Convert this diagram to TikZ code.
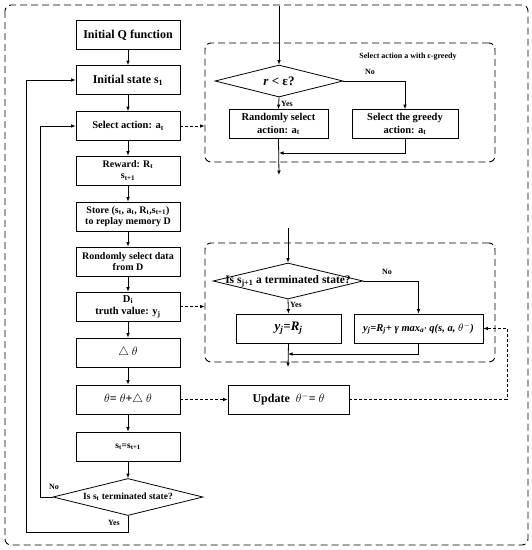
\documentclass[tikz,border=0pt]{standalone}
\usepackage{fontspec}
\setmainfont{Liberation Serif}
\usetikzlibrary{calc, arrows.meta, positioning, shapes.geometric}

\begin{document}
\begin{tikzpicture}[x=1pt,y=-1pt,
    >={Latex[length=4.5pt,width=3.6pt]},
    box/.style={draw,line width=0.8pt,minimum width=104pt,minimum height=29pt,inner sep=1pt,align=center,font=\bfseries\fontsize{10}{11.5}\selectfont},
    bigtext/.style={font=\bfseries\fontsize{12}{14}\selectfont},
    decision/.style={draw,diamond,line width=0.8pt,inner sep=0pt,aspect=4,font=\bfseries\fontsize{9.5}{11}\selectfont},
    group/.style={draw,line width=0.9pt,dash pattern=on 7pt off 4pt,rounded corners=6pt},
    line/.style={line width=0.8pt},
    dline/.style={line width=0.8pt,dash pattern=on 3pt off 2pt},
    lbl/.style={inner sep=1pt,font=\bfseries\fontsize{8}{9.5}\selectfont}]
    \useasboundingbox (0,0) rectangle (532,550);

    % outer frame
    \draw[group] (5,5) rectangle (528,545);

    % main loop
    \node[box,bigtext] (qinit) at (128,35) {Initial Q function};
    \node[box,bigtext] (sinit) at (128,80) {Initial state s\textsubscript{1}};
    \node[box,font=\bfseries\fontsize{10.5}{12}\selectfont] (selact) at (128,126) {Select action: a\textsubscript{t}};
    \node[box] (reward) at (128,170.5) {Reward: R\textsubscript{t}\\ s\textsubscript{t+1}};
    \node[box] (store) at (128,216.5) {Store (s\textsubscript{t}, a\textsubscript{t}, R\textsubscript{t},s\textsubscript{t+1})\\ to replay memory D};
    \node[box] (sample) at (128,261.5) {Rondomly select data\\ from D};
    \node[box,font=\bfseries\fontsize{10.5}{12.5}\selectfont] (target) at (128,306.5) {D\textsubscript{i}\\ truth value: y\textsubscript{j}};
    \node[box,bigtext] (dtheta) at (128,352.5) {$\triangle\ \theta$};
    \node[box,bigtext] (upd) at (128,399.5) {$\theta$= $\theta$+$\triangle\ \theta$};
    \node[box,font=\bfseries\fontsize{9.5}{11}\selectfont] (snext) at (128,446.5) {s\textsubscript{t}=s\textsubscript{t+1}};
    \node[decision,minimum width=150pt,minimum height=37pt] (term) at (128,497) {\makebox[0pt]{Is s\textsubscript{t} terminated state?}};

    \draw[line,->] (qinit) -- (sinit);
    \draw[line,->] (sinit) -- (selact);
    \draw[line,->] (selact) -- (reward);
    \draw[line,->] (reward) -- (store);
    \draw[line,->] (store) -- (sample);
    \draw[line,->] (sample) -- (target);
    \draw[line,->] (target) -- (dtheta);
    \draw[line,->] (dtheta) -- (upd);
    \draw[line,->] (upd) -- (snext);
    \draw[line,->] (snext) -- (term);

    \coordinate (nobend) at (40,497);
    \coordinate (yesbend) at (26,532);
    \draw[line,->] (term.west) -- (nobend) |- (selact.west);
    \draw[line,->] (term.south) |- (yesbend) |- (sinit.west);
    \node[lbl] (termno) at (54,487) {No};
    \node[lbl] (termyes) at (114,523) {Yes};

    % epsilon-greedy choice
    \node[group,minimum width=290pt,minimum height=119pt] (epsbox) at (350,102.5) {};
    \node[lbl] (epstitle) at (408,57) {Select action a with ε-greedy};
    \node[decision,minimum width=128pt,minimum height=32pt] (eps) at (279,81) {\makebox[0pt]{\fontsize{13}{15}\selectfont\textit{r} < ε?}};
    \node[box,minimum width=99pt,font=\bfseries\fontsize{10.5}{12.5}\selectfont] (randact) at (278.5,124) {Randomly select\\ action: a\textsubscript{t}};
    \node[box,minimum width=106pt,font=\bfseries\fontsize{10.5}{12.5}\selectfont] (greedact) at (405,124) {Select the greedy\\ action: a\textsubscript{t}};
    \coordinate (epsin) at (279,6);
    \coordinate (epsmerge) at (279,153);
    \coordinate (epsout) at (279,175);

    \draw[line,->] (epsin) -- (eps.north);
    \draw[line,->] (eps.south) -- (randact.north);
    \draw[line,->] (eps.east) -| (greedact.north);
    \draw[line,->] (randact.south) -- (epsout);
    \draw[line,->] (greedact.south) |- (epsmerge);
    \node[lbl] (epsno) at (370,72) {No};
    \node[lbl,anchor=west] (epsyes) at (280,104) {Yes};
    \draw[dline,->] (selact.east) -- (selact.east -| epsbox.west);

    % target value
    \node[group,minimum width=290pt,minimum height=119pt] (tgtbox) at (350,302.5) {};
    \node[decision,minimum width=150pt,minimum height=36pt] (jterm) at (288,281) {\makebox[0pt]{\fontsize{11.5}{13.5}\selectfont Is s\textsubscript{j+1} a terminated state?}};
    \node[box,minimum width=105pt,font=\bfseries\itshape\fontsize{13}{15}\selectfont] (yterm) at (288.5,328.5) {y\textsubscript{j}=R\textsubscript{j}};
    \node[box,minimum width=129pt,font=\bfseries\itshape\fontsize{10.5}{12}\selectfont] (ynon) at (418.5,328.5) {y\textsubscript{j}=R\textsubscript{j}+ γ max\textsubscript{a'} q(s, a, $\theta^{-}$)};
    \coordinate (jin) at (288,228);
    \coordinate (jmerge) at (288,354);
    \coordinate (jout) at (288,367);

    \draw[line,->] (jin) -- (jterm.north);
    \draw[line,->] (jterm.south) -- (yterm.north);
    \draw[line,->] (jterm.east) -| (ynon.north);
    \draw[line,->] (yterm.south) -- (jout);
    \draw[line,->] (ynon.south) |- (jmerge);
    \node[lbl] (jno) at (387,272) {No};
    \node[lbl,anchor=west] (jyes) at (289,305) {Yes};
    \draw[dline,->] (target.east) -- (target.east -| tgtbox.west);

    % target network update
    \node[box,minimum width=121pt,font=\bfseries\fontsize{12}{14}\selectfont] (updtgt) at (288.5,399.5) {Update\ \ $\theta^{-}$= $\theta$};
    \coordinate (updbend) at (507,399.5);
    \draw[dline,->] (upd) -- (updtgt);
    \draw[dline,->] (updtgt.east) -- (updbend) |- (ynon.east);
\end{tikzpicture}
\end{document}
